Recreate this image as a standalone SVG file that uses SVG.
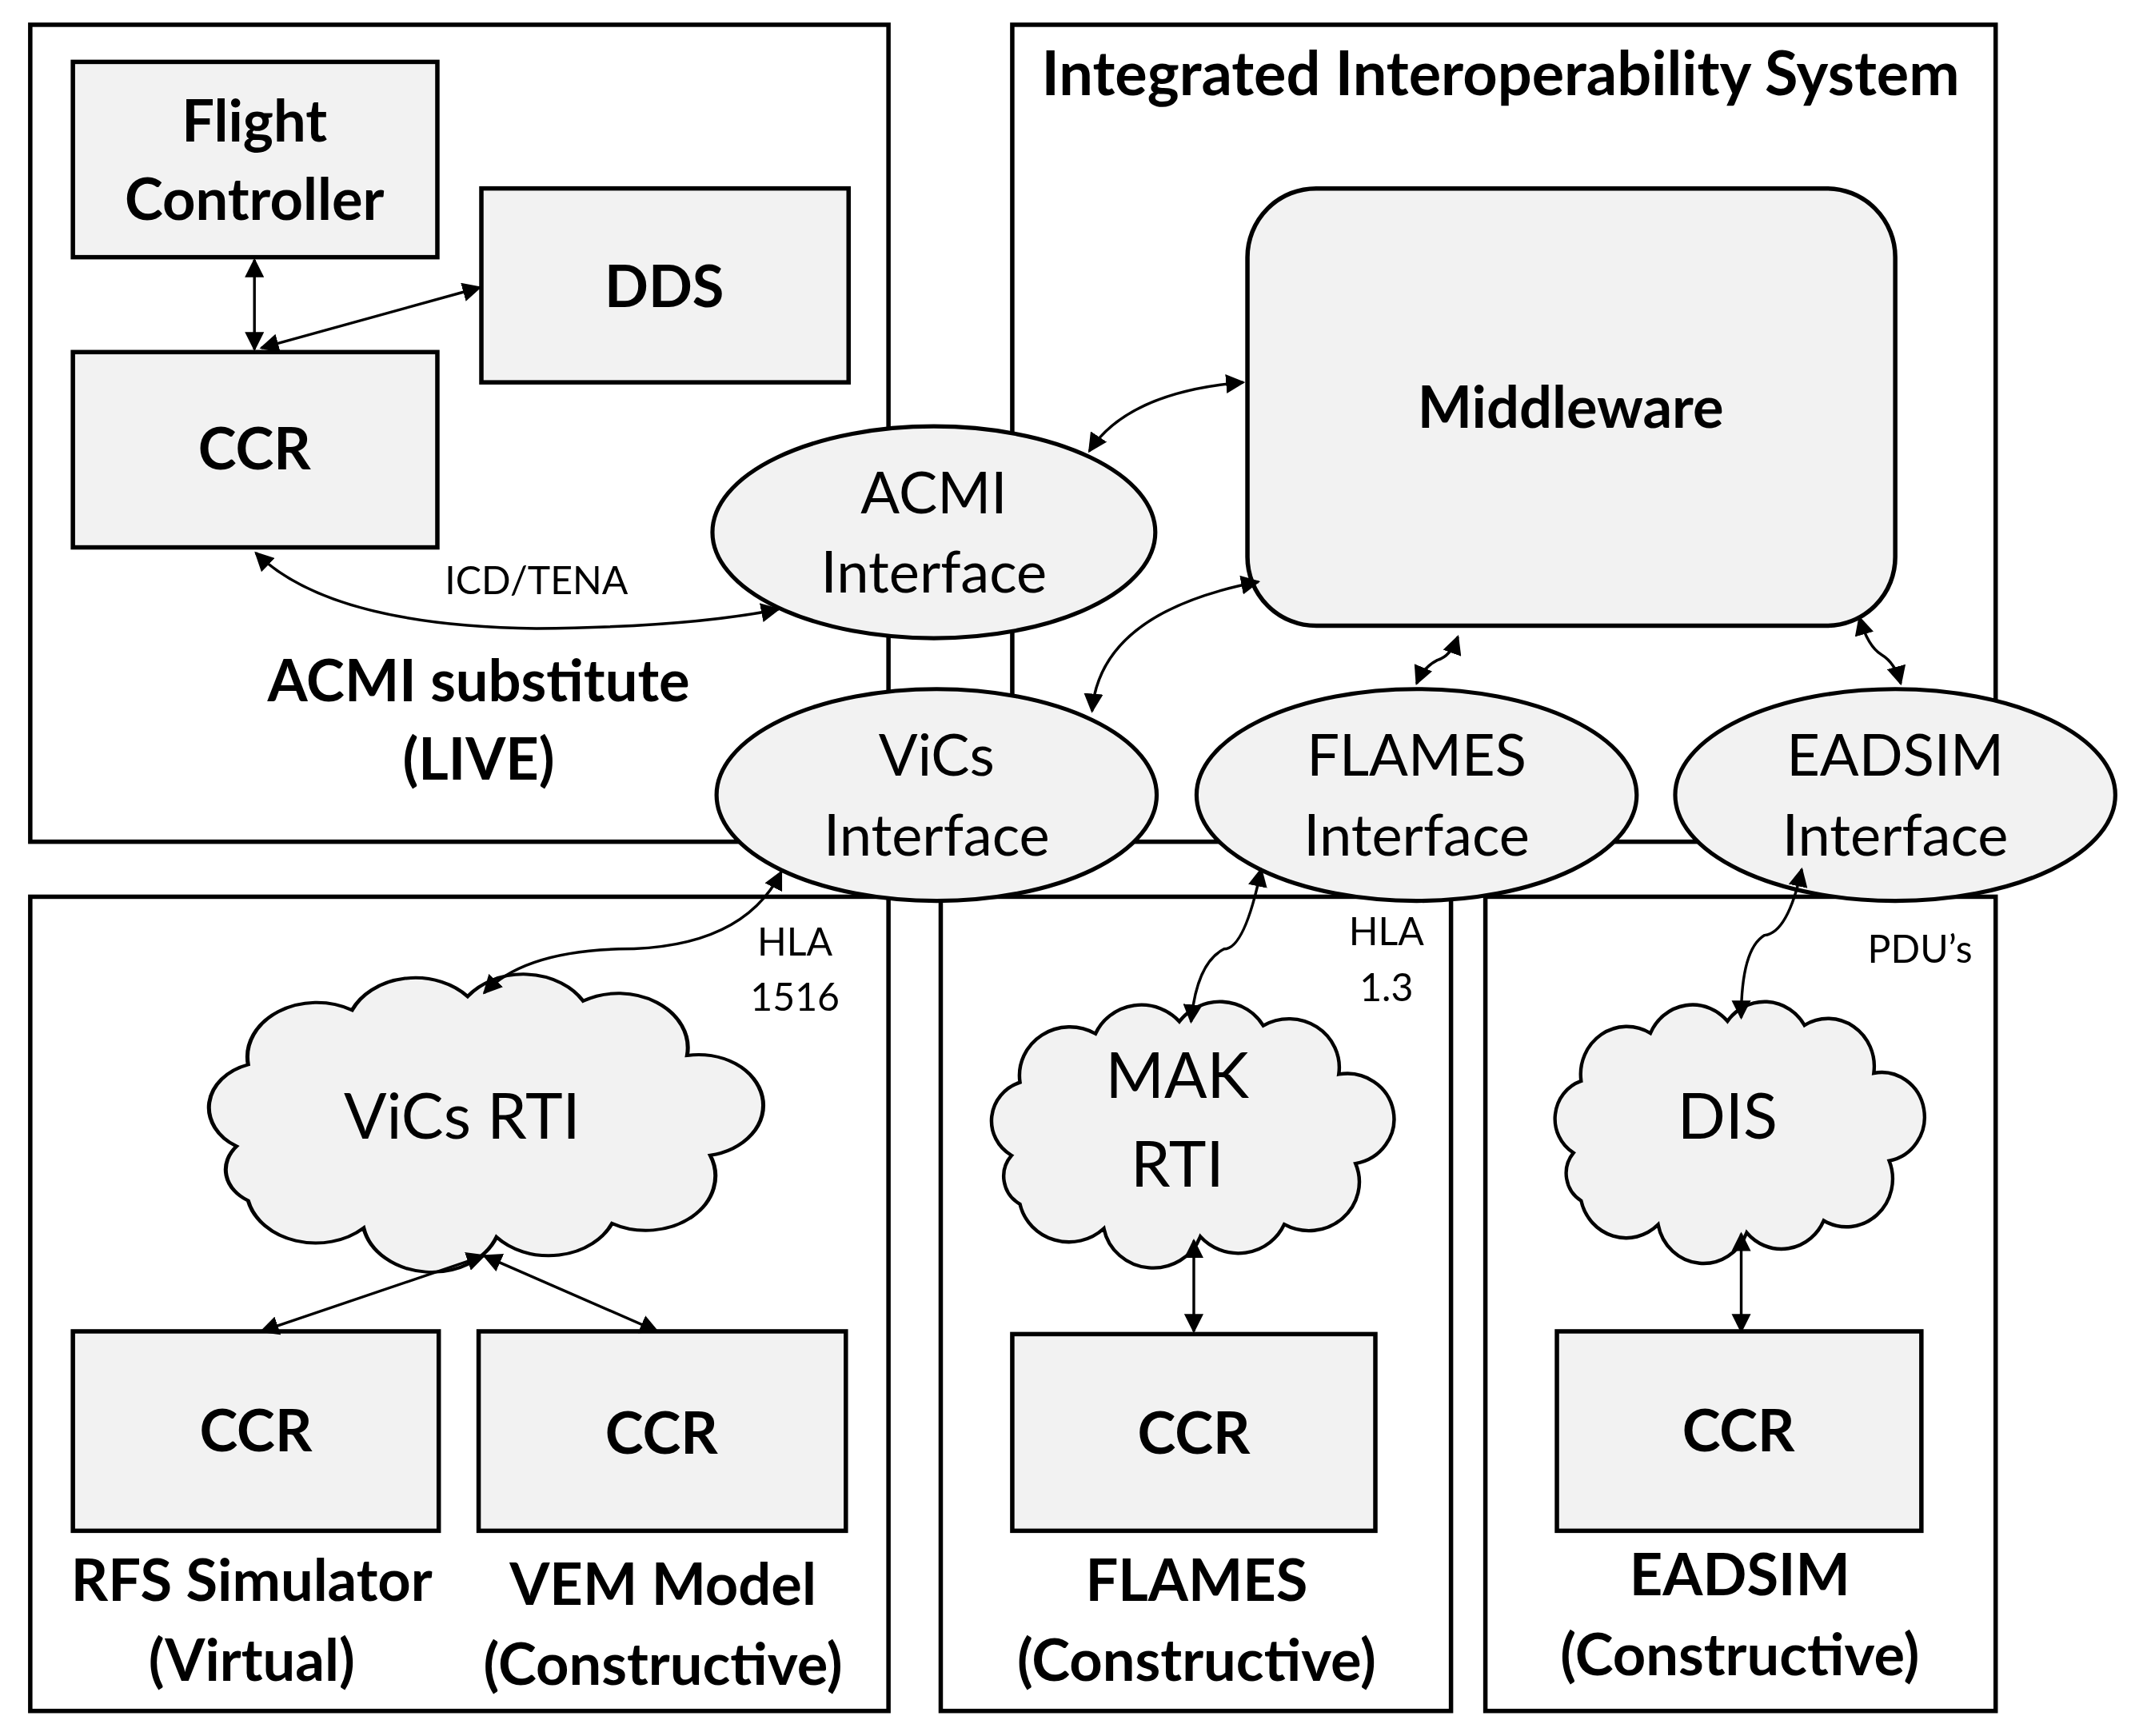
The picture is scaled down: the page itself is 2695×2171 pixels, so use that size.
<svg xmlns="http://www.w3.org/2000/svg" xmlns:xlink="http://www.w3.org/1999/xlink" width="2695" height="2171" viewBox="0 0 2695 2171">
<style>
.frame{fill:#fff;stroke:#000;stroke-width:3.2}
.box{fill:#f2f2f2;stroke:#000;stroke-width:3.2}
.ell{fill:#f2f2f2;stroke:#000;stroke-width:3}
.c{fill:none;stroke:#000;stroke-width:2;marker-start:url(#a);marker-end:url(#a)}
text{font-family:Lato,"Liberation Sans",sans-serif;text-anchor:middle;fill:#000}
.b{font-weight:bold;font-size:42px}
.n{font-size:42px}
.s{font-size:28px}
</style>
<defs>
<marker id="a" viewBox="0 0 10 10" refX="9" refY="5" markerWidth="7" markerHeight="7" orient="auto-start-reverse"><path d="M0,0 L10,5 L0,10 Z" fill="#000"/></marker>
<path id="cloud" d="M10,38 A10,10 0 0 1 12,20 A12,12 0 0 1 30,8 A12,12 0 0 1 50,5 A12,12 0 0 1 70,6 A12,12 0 0 1 88,18 A10,10 0 0 1 92,40 A12,12 0 0 1 75,55 A12,12 0 0 1 55,58 A12,12 0 0 1 32,56 A12,12 0 0 1 12,50 A8,8 0 0 1 10,38 Z"/>
</defs>
<rect width="2695" height="2171" fill="#fff"/>
<g transform="scale(1.72)">
<g id="frames">
<rect class="frame" x="22" y="18" width="624" height="594"/>
<rect class="frame" x="736" y="18" width="715" height="594"/>
<rect class="frame" x="22" y="652" width="624" height="592"/>
<rect class="frame" x="684" y="652" width="371" height="592"/>
<rect class="frame" x="1080" y="652" width="371" height="592"/>
<text class="b" x="1091" y="69" style="font-size:44px">Integrated Interoperability System</text>
<text class="b" x="348" y="510">ACMI substitute</text>
<text class="b" x="348" y="567">(LIVE)</text>
<text class="b" x="183" y="1164">RFS Simulator</text>
<text class="b" x="183" y="1222">(Virtual)</text>
<text class="b" x="482" y="1167">VEM Model</text>
<text class="b" x="482" y="1225">(Constructive)</text>
<text class="b" x="870" y="1164">FLAMES</text>
<text class="b" x="870" y="1222">(Constructive)</text>
<text class="b" x="1265" y="1160">EADSIM</text>
<text class="b" x="1265" y="1218">(Constructive)</text>
</g>
<g id="flight"><rect class="box" x="53" y="45" width="265" height="142"/><text class="b" x="185" y="103">Flight</text><text class="b" x="185" y="160">Controller</text></g>
<g id="dds"><rect class="box" x="350" y="137" width="267" height="141"/><text class="b" x="483" y="223">DDS</text></g>
<g id="ccr0"><rect class="box" x="53" y="256" width="265" height="142"/><text class="b" x="185" y="341">CCR</text></g>
<g id="middleware"><rect class="box" x="907" y="137" width="471" height="318" rx="50"/><text class="b" x="1142" y="311">Middleware</text></g>
<g id="acmi"><ellipse class="ell" cx="679" cy="387" rx="161" ry="77"/><text class="n" x="679" y="373">ACMI</text><text class="n" x="679" y="431">Interface</text></g>
<g id="vics"><ellipse class="ell" cx="681" cy="578" rx="160" ry="77"/><text class="n" x="681" y="564">ViCs</text><text class="n" x="681" y="622">Interface</text></g>
<g id="flames"><ellipse class="ell" cx="1030" cy="578" rx="160" ry="77"/><text class="n" x="1030" y="564">FLAMES</text><text class="n" x="1030" y="622">Interface</text></g>
<g id="eadsim"><ellipse class="ell" cx="1378" cy="578" rx="160" ry="77"/><text class="n" x="1378" y="564">EADSIM</text><text class="n" x="1378" y="622">Interface</text></g>
<g id="vicsrti"><use xlink:href="#cloud" fill="#f2f2f2" stroke="#000" stroke-width="0.7" transform="translate(130,708) scale(4.2 3.3)"/><text class="n" x="336" y="828" style="font-size:46px">ViCs RTI</text></g>
<g id="makrti"><use xlink:href="#cloud" fill="#f2f2f2" stroke="#000" stroke-width="0.85" transform="translate(705,728) scale(3.05 2.95)"/><text class="n" x="856" y="798" style="font-size:46px">MAK</text><text class="n" x="856" y="863" style="font-size:46px">RTI</text></g>
<g id="dis"><use xlink:href="#cloud" fill="#f2f2f2" stroke="#000" stroke-width="0.9" transform="translate(1116,728) scale(2.8 2.9)"/><text class="n" x="1256" y="828" style="font-size:46px">DIS</text></g>
<g id="ccr1"><rect class="box" x="53" y="968" width="266" height="145"/><text class="b" x="186" y="1055">CCR</text></g>
<g id="ccr2"><rect class="box" x="348" y="968" width="267" height="145"/><text class="b" x="481" y="1057">CCR</text></g>
<g id="ccr3"><rect class="box" x="736" y="970" width="264" height="143"/><text class="b" x="868" y="1057">CCR</text></g>
<g id="ccr4"><rect class="box" x="1132" y="968" width="265" height="145"/><text class="b" x="1264" y="1055">CCR</text></g>
<g id="labels">
<text class="s" x="390" y="432">ICD/TENA</text>
<text class="s" x="578" y="695">HLA</text>
<text class="s" x="578" y="735">1516</text>
<text class="s" x="1008" y="687">HLA</text>
<text class="s" x="1008" y="728">1.3</text>
<text class="s" x="1396" y="700">PDU’s</text>
</g>
<g id="connectors">
<path class="c" d="M185,189 L185,254"/>
<path class="c" d="M190,253 L349,209"/>
<path class="c" d="M186,402 Q240,455 390,457 Q500,456 566,443"/>
<path class="c" d="M792,328 Q820,285 904,278"/>
<path class="c" d="M794,517 Q800,445 915,423"/>
<path class="c" d="M1030,497 Q1035,485 1045,480 Q1055,477 1060,463"/>
<path class="c" d="M1382,497 Q1378,482 1368,476 Q1358,470 1352,449"/>
<path class="c" d="M568,634 Q540,690 450,690 Q380,692 352,722"/>
<path class="c" d="M917,632 Q905,690 890,690 Q870,700 866,743"/>
<path class="c" d="M1310,632 Q1300,678 1283,680 Q1266,690 1266,740"/>
<path class="c" d="M352,913 L190,968"/>
<path class="c" d="M352,913 L478,968"/>
<path class="c" d="M868,902 L868,968"/>
<path class="c" d="M1266,897 L1266,968"/>
</g>
</g>
</svg>
